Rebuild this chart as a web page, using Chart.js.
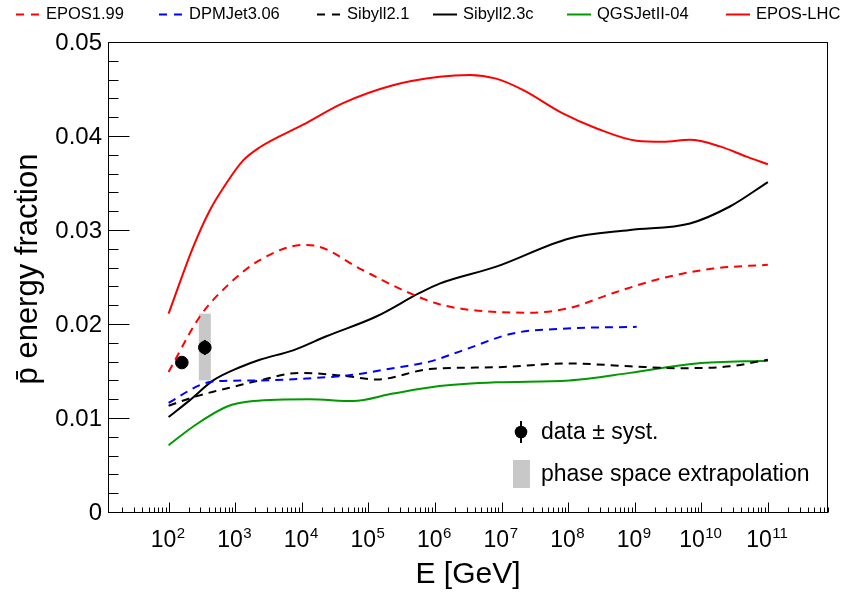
<!DOCTYPE html>
<html><head><meta charset="utf-8">
<script src="https://cdn.jsdelivr.net/npm/chart.js@4.4.0/dist/chart.umd.min.js"></script>
<style>html,body{margin:0;padding:0;background:#fff;}canvas{display:block;}</style>
</head><body>
<canvas id="c" width="843" height="594"></canvas>
<script>
// ---- data (energies stored as log10(E/GeV)) ----
const xTickExponents = [2, 3, 4, 5, 6, 7, 8, 9, 10, 11];
const yTickValues = [0, 0.01, 0.02, 0.03, 0.04, 0.05];
const yTickLabels = ['0', '0.01', '0.02', '0.03', '0.04', '0.05'];

const epos199LogE = [2.0, 2.47, 2.87, 3.37, 4.02, 4.22, 4.87, 5.52, 6.02, 6.42, 7.42, 8.02, 8.68, 9.43, 10.18, 11.0];
const epos199Val  = [0.0149, 0.0208, 0.0240, 0.0268, 0.0284, 0.0283, 0.0259, 0.0236, 0.0222, 0.0216, 0.0212, 0.0217, 0.0233, 0.0249, 0.0259, 0.0263];

const dpmjetLogE = [2.0, 2.47, 2.69, 3.37, 4.07, 4.77, 5.37, 5.92, 6.42, 7.17, 7.92, 9.03];
const dpmjetVal  = [0.0116, 0.0135, 0.0139, 0.0140, 0.0142, 0.0146, 0.0153, 0.0160, 0.0172, 0.0190, 0.0195, 0.0197];

const sibyll21LogE = [2.0, 2.32, 2.67, 2.96, 3.37, 3.97, 4.62, 5.12, 5.92, 6.92, 8.02, 8.93, 9.68, 10.43, 11.0];
const sibyll21Val  = [0.0113, 0.0121, 0.0128, 0.0133, 0.0140, 0.0148, 0.0145, 0.0141, 0.0152, 0.0154, 0.0158, 0.0155, 0.0153, 0.0155, 0.0162];

const sibyll23cLogE = [2.0, 2.32, 2.67, 3.07, 3.37, 3.87, 4.37, 5.12, 5.77, 6.07, 6.92, 8.02, 8.93, 9.83, 10.43, 11.0];
const sibyll23cVal  = [0.0101, 0.0119, 0.0140, 0.0154, 0.0162, 0.0172, 0.0187, 0.0208, 0.0233, 0.0243, 0.0261, 0.0291, 0.0300, 0.0307, 0.0325, 0.0351];

const qgsjetLogE = [2.0, 2.37, 2.87, 3.27, 4.12, 4.77, 5.37, 6.07, 6.92, 8.02, 8.93, 9.93, 11.0];
const qgsjetVal  = [0.0071, 0.0091, 0.0112, 0.0118, 0.0120, 0.0118, 0.0126, 0.0134, 0.0138, 0.0140, 0.0148, 0.0158, 0.0161];

const eposLhcLogE = [2.0, 2.37, 2.62, 2.87, 3.12, 3.37, 4.02, 4.62, 5.37, 6.07, 6.52, 6.92, 7.32, 7.92, 8.43, 9.03, 9.43, 9.83, 10.28, 10.68, 11.0];
const eposLhcVal  = [0.0211, 0.0282, 0.0321, 0.0350, 0.0374, 0.0388, 0.0412, 0.0435, 0.0454, 0.0463, 0.0465, 0.0461, 0.0449, 0.0424, 0.0408, 0.0395, 0.0394, 0.0396, 0.0389, 0.0378, 0.0370];

const dataE   = [158, 350];
const dataVal = [0.0159, 0.0175];
const dataErr = [0.0005, 0.0008];

const extrapE    = [350];
const extrapLow  = [0.0140];
const extrapHigh = [0.0211];

// ---- helpers ----
const FONT = '"Liberation Sans", Arial, Helvetica, sans-serif';
function pts(logE, val) { return logE.map((l, i) => ({ x: Math.pow(10, l), y: val[i] })); }
function curve(label, logE, val, color, dashed) {
  return { label, data: pts(logE, val), borderColor: color, backgroundColor: color,
    borderWidth: 2, borderDash: dashed ? [8, 6] : [], pointRadius: 0, fill: false,
    cubicInterpolationMode: 'monotone', showInLegend: true };
}

const datasets = [
  curve('EPOS1.99', epos199LogE, epos199Val, '#ff0000', true),
  curve('DPMJet3.06', dpmjetLogE, dpmjetVal, '#0000ff', true),
  curve('Sibyll2.1', sibyll21LogE, sibyll21Val, '#000000', true),
  curve('Sibyll2.3c', sibyll23cLogE, sibyll23cVal, '#000000', false),
  curve('QGSJetII-04', qgsjetLogE, qgsjetVal, '#009a00', false),
  curve('EPOS-LHC', eposLhcLogE, eposLhcVal, '#ff0000', false),
  { label: 'data', data: dataE.map((e, i) => ({ x: e, y: dataVal[i] })), showLine: false,
    pointRadius: 6.3, pointHoverRadius: 6.3, pointBackgroundColor: '#000', pointBorderColor: '#000',
    borderColor: '#000', showInLegend: false }
];

const rootStyle = {
  id: 'rootStyle',
  beforeDatasetsDraw(chart) {
    const { ctx, scales: { x, y } } = chart;
    ctx.save();
    ctx.fillStyle = '#c8c8c8';
    extrapE.forEach((e, i) => {
      const px = x.getPixelForValue(e);
      const top = y.getPixelForValue(extrapHigh[i]);
      const bot = y.getPixelForValue(extrapLow[i]);
      ctx.fillRect(px - 6, top, 12, bot - top);
    });
    ctx.restore();
  },
  afterDatasetsDraw(chart) {
    const { ctx, scales: { x, y } } = chart;
    ctx.save();
    ctx.strokeStyle = '#000'; ctx.lineWidth = 2;
    dataE.forEach((e, i) => {
      const px = x.getPixelForValue(e);
      ctx.beginPath();
      ctx.moveTo(px, y.getPixelForValue(dataVal[i] + dataErr[i]));
      ctx.lineTo(px, y.getPixelForValue(dataVal[i] - dataErr[i]));
      ctx.stroke();
    });
    ctx.restore();
  },
  afterDraw(chart) {
    const { ctx, chartArea: a, scales: { x, y } } = chart;
    ctx.save();
    // frame
    ctx.strokeStyle = '#000'; ctx.lineWidth = 1;
    ctx.strokeRect(Math.round(a.left) + 0.5, Math.round(a.top) + 0.5, Math.round(a.right - a.left) - 1, Math.round(a.bottom - a.top));
    const yb = Math.round(a.bottom) + 0.5;
    const xl = Math.round(a.left) + 0.5;
    // y ticks (inward)
    ctx.beginPath();
    for (let v = 0; v <= 0.05 + 1e-9; v += 0.002) {
      const py = Math.round(y.getPixelForValue(v)) + 0.5;
      const major = Math.abs(v / 0.01 - Math.round(v / 0.01)) < 1e-6;
      ctx.moveTo(xl, py); ctx.lineTo(xl + (major ? 21 : 10), py);
    }
    // x ticks (inward)
    for (let n = 1; n <= 11; n++) {
      for (let m = 1; m <= 9; m++) {
        const v = m * Math.pow(10, n);
        if (v < x.min || v > x.max) continue;
        const px = Math.round(x.getPixelForValue(v)) + 0.5;
        ctx.moveTo(px, yb); ctx.lineTo(px, yb - (m === 1 ? 10 : 5));
      }
    }
    ctx.stroke();

    // y tick labels
    ctx.fillStyle = '#000';
    ctx.font = '24px ' + FONT;
    ctx.textAlign = 'right'; ctx.textBaseline = 'middle';
    yTickValues.forEach((v, i) => ctx.fillText(yTickLabels[i], 102, y.getPixelForValue(v) + 1));

    // x tick labels: 10^n
    ctx.textBaseline = 'alphabetic'; ctx.textAlign = 'left';
    xTickExponents.forEach(n => {
      const px = x.getPixelForValue(Math.pow(10, n));
      ctx.font = '23px ' + FONT;
      const wb = ctx.measureText('10').width;
      ctx.font = '15px ' + FONT;
      const we = ctx.measureText(String(n)).width;
      const x0 = px - (wb + we) / 2 - 1;
      ctx.font = '23px ' + FONT;
      ctx.fillText('10', x0, 547);
      ctx.font = '15px ' + FONT;
      ctx.fillText(String(n), x0 + wb + 0.5, 538);
    });

    // axis titles
    ctx.font = '30px ' + FONT;
    ctx.textAlign = 'center';
    ctx.fillText('E [GeV]', (a.left + a.right) / 2, 583);
    ctx.save();
    ctx.translate(37, 269);
    ctx.rotate(-Math.PI / 2);
    ctx.font = '31px ' + FONT;
    ctx.fillText('p\u0304 energy fraction', 0, 0);
    ctx.restore();

    // top legend
    const legX = [16, 159, 317, 433, 567, 726];
    ctx.font = '16.5px ' + FONT;
    ctx.textAlign = 'left'; ctx.textBaseline = 'middle';
    chart.data.datasets.filter(d => d.showInLegend).forEach((d, i) => {
      ctx.strokeStyle = d.borderColor; ctx.lineWidth = 2;
      ctx.setLineDash(d.borderDash && d.borderDash.length ? [8, 7] : []);
      ctx.beginPath(); ctx.moveTo(legX[i], 14.5); ctx.lineTo(legX[i] + 24, 14.5); ctx.stroke();
      ctx.setLineDash([]);
      ctx.fillStyle = '#000';
      ctx.fillText(d.label, legX[i] + 30, 14);
    });

    // inner legend
    ctx.fillStyle = '#000'; ctx.strokeStyle = '#000'; ctx.lineWidth = 2;
    ctx.beginPath(); ctx.moveTo(521, 421); ctx.lineTo(521, 443); ctx.stroke();
    ctx.beginPath(); ctx.arc(521, 432, 6.3, 0, Math.PI * 2); ctx.fill();
    ctx.font = '23px ' + FONT;
    ctx.textBaseline = 'alphabetic';
    ctx.fillText('data \u00b1 syst.', 541, 439);
    ctx.fillStyle = '#c8c8c8';
    ctx.fillRect(513, 460, 17, 28);
    ctx.fillStyle = '#000';
    ctx.fillText('phase space extrapolation', 541, 481);
    ctx.restore();
  }
};

new Chart(document.getElementById('c'), {
  type: 'line',
  data: { datasets },
  options: {
    responsive: false, animation: false, devicePixelRatio: 1,
    layout: { padding: { left: 108, right: 15, top: 42, bottom: 82 } },
    plugins: { legend: { display: false }, tooltip: { enabled: false } },
    scales: {
      x: { type: 'logarithmic', min: 12.3, max: 8e11, display: false },
      y: { type: 'linear', min: 0, max: 0.05, display: false }
    }
  },
  plugins: [rootStyle]
});
</script>
</body></html>
